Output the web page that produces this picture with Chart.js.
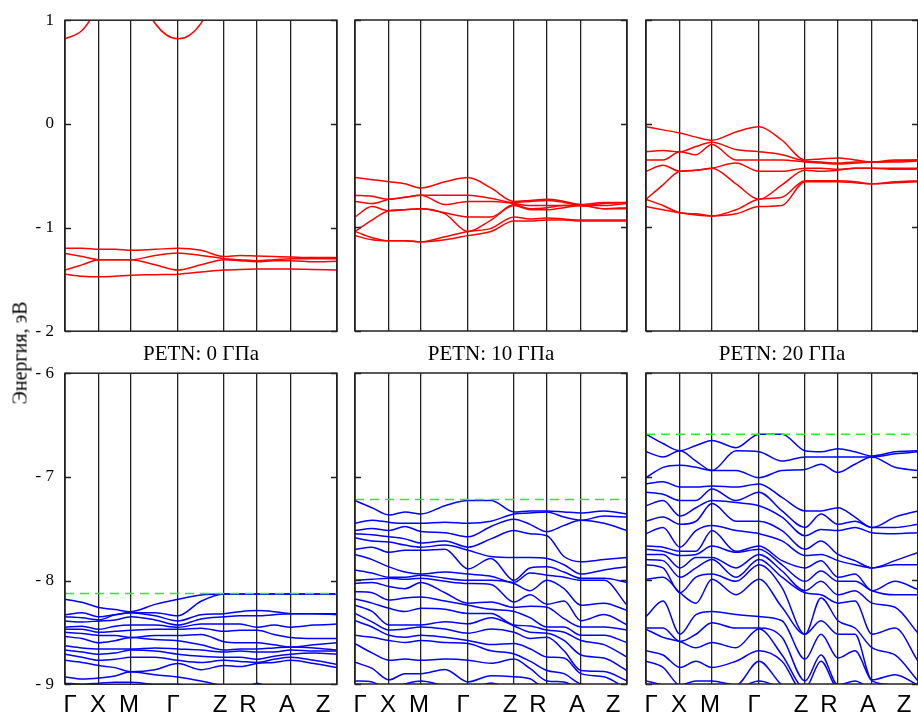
<!DOCTYPE html>
<html><head><meta charset="utf-8">
<script src="https://cdn.jsdelivr.net/npm/chart.js@4.4.1/dist/chart.umd.min.js"></script>
<style>
html,body{margin:0;padding:0;background:#fff;overflow:hidden;width:918px;height:716px;position:relative;}
canvas{position:absolute;}
.txt{position:absolute;font-family:"Liberation Serif","DejaVu Serif",serif;color:#000;white-space:nowrap;transform:translate(-50%,-50%);}
</style></head><body>
<script>
// ---- k-path (band-structure abscissa) ----
const kPath = [0,17,34,50,66,90,113,136,159,175,192,209,226,249,272];
const kTicks = [0,34,66,113,159,192,226,272];
const kLabels = ['Γ','X','M','Γ','Z','R','A','Z'];
const kLabelPos = [5,33,64,108,155,183,222,258];
const pressures = ['0','10','20'];
const vbmLevel = [-8.125,-7.22,-6.59];

// ---- conduction bands (eV), eigenvalues at each k of kPath ----
const cbUpper0 = [0.82,0.90,1.15,1.50,1.45,0.97,0.82,0.97,1.45,1.6,1.6,1.6,1.6,1.6,1.6];
const cb0ByK = [
 [-1.20,-1.25,-1.41,-1.45],
 [-1.20,-1.28,-1.36,-1.47],
 [-1.21,-1.31,-1.31,-1.475],
 [-1.21,-1.31,-1.31,-1.47],
 [-1.22,-1.31,-1.31,-1.46],
 [-1.21,-1.27,-1.36,-1.455],
 [-1.20,-1.245,-1.41,-1.45],
 [-1.22,-1.27,-1.36,-1.43],
 [-1.28,-1.30,-1.31,-1.41],
 [-1.27,-1.31,-1.32,-1.405],
 [-1.275,-1.32,-1.33,-1.40],
 [-1.28,-1.31,-1.32,-1.40],
 [-1.285,-1.30,-1.32,-1.40],
 [-1.29,-1.30,-1.33,-1.405],
 [-1.29,-1.30,-1.325,-1.41]
];
const cb10ByK = [
 [-0.52,-0.69,-0.75,-0.90,-1.04,-1.04,-1.08],
 [-0.54,-0.70,-0.77,-0.80,-0.93,-1.10,-1.12],
 [-0.56,-0.73,-0.73,-0.84,-0.84,-1.13,-1.13],
 [-0.58,-0.71,-0.71,-0.83,-0.83,-1.13,-1.13],
 [-0.62,-0.69,-0.69,-0.82,-0.82,-1.14,-1.14],
 [-0.56,-0.69,-0.78,-0.86,-0.87,-1.09,-1.12],
 [-0.52,-0.69,-0.75,-0.90,-1.04,-1.04,-1.08],
 [-0.62,-0.72,-0.75,-0.90,-0.93,-1.01,-1.04],
 [-0.75,-0.76,-0.77,-0.78,-0.79,-0.90,-0.94],
 [-0.74,-0.75,-0.79,-0.82,-0.83,-0.92,-0.94],
 [-0.73,-0.74,-0.79,-0.81,-0.83,-0.91,-0.93],
 [-0.75,-0.76,-0.79,-0.79,-0.81,-0.92,-0.93],
 [-0.78,-0.79,-0.79,-0.79,-0.79,-0.93,-0.94],
 [-0.76,-0.77,-0.79,-0.82,-0.82,-0.93,-0.94],
 [-0.76,-0.76,-0.77,-0.81,-0.82,-0.93,-0.94]
];
const cb20ByK = [
 [-0.03,-0.27,-0.35,-0.46,-0.73,-0.73,-0.80],
 [-0.06,-0.26,-0.35,-0.40,-0.59,-0.79,-0.83],
 [-0.09,-0.27,-0.27,-0.46,-0.46,-0.86,-0.86],
 [-0.13,-0.22,-0.30,-0.45,-0.45,-0.87,-0.88],
 [-0.16,-0.18,-0.20,-0.43,-0.43,-0.89,-0.89],
 [-0.08,-0.25,-0.35,-0.38,-0.58,-0.83,-0.87],
 [-0.03,-0.27,-0.35,-0.46,-0.73,-0.73,-0.80],
 [-0.16,-0.30,-0.35,-0.46,-0.59,-0.71,-0.79],
 [-0.35,-0.36,-0.37,-0.43,-0.45,-0.55,-0.56],
 [-0.34,-0.37,-0.38,-0.43,-0.46,-0.55,-0.56],
 [-0.33,-0.38,-0.39,-0.44,-0.45,-0.55,-0.56],
 [-0.35,-0.37,-0.38,-0.43,-0.43,-0.56,-0.57],
 [-0.37,-0.37,-0.37,-0.43,-0.43,-0.58,-0.58],
 [-0.35,-0.36,-0.37,-0.43,-0.44,-0.56,-0.57],
 [-0.35,-0.35,-0.36,-0.43,-0.44,-0.55,-0.56]
];

// ---- valence bands (eV), one array per band along kPath ----
const vb0Bands = [
 [-8.18,-8.21,-8.26,-8.28,-8.30,-8.23,-8.18,-8.14,-8.13,-8.13,-8.13,-8.13,-8.13,-8.13,-8.13],
 [-8.33,-8.31,-8.35,-8.33,-8.31,-8.31,-8.34,-8.20,-8.13,-8.13,-8.13,-8.13,-8.13,-8.13,-8.13],
 [-8.35,-8.36,-8.38,-8.33,-8.31,-8.34,-8.39,-8.33,-8.32,-8.30,-8.29,-8.30,-8.32,-8.32,-8.32],
 [-8.39,-8.40,-8.39,-8.38,-8.35,-8.38,-8.43,-8.37,-8.35,-8.34,-8.34,-8.33,-8.32,-8.32,-8.33],
 [-8.45,-8.44,-8.47,-8.44,-8.43,-8.43,-8.45,-8.42,-8.42,-8.42,-8.45,-8.43,-8.45,-8.43,-8.42],
 [-8.47,-8.47,-8.50,-8.49,-8.48,-8.47,-8.47,-8.46,-8.49,-8.48,-8.48,-8.52,-8.55,-8.56,-8.56],
 [-8.50,-8.51,-8.53,-8.53,-8.55,-8.53,-8.53,-8.52,-8.59,-8.60,-8.60,-8.62,-8.64,-8.62,-8.60],
 [-8.54,-8.56,-8.60,-8.58,-8.55,-8.57,-8.58,-8.62,-8.67,-8.66,-8.66,-8.65,-8.64,-8.65,-8.67],
 [-8.63,-8.65,-8.66,-8.66,-8.66,-8.65,-8.66,-8.67,-8.69,-8.68,-8.69,-8.69,-8.67,-8.68,-8.68],
 [-8.67,-8.69,-8.71,-8.70,-8.67,-8.68,-8.71,-8.73,-8.74,-8.74,-8.76,-8.73,-8.71,-8.70,-8.71],
 [-8.71,-8.74,-8.77,-8.76,-8.74,-8.74,-8.77,-8.79,-8.77,-8.78,-8.79,-8.76,-8.74,-8.77,-8.81],
 [-8.77,-8.79,-8.82,-8.84,-8.88,-8.86,-8.80,-8.86,-8.82,-8.83,-8.80,-8.79,-8.77,-8.80,-8.84],
 [-8.93,-8.95,-8.94,-8.92,-8.88,-8.91,-8.93,-8.97,-9.02,-9.05,-8.99,-9.05,-9.10,-9.10,-9.10],
 [-8.99,-9.00,-8.99,-8.98,-8.98,-9.00,-9.00,-9.05,-9.10,-9.10,-9.10,-9.10,-9.10,-9.10,-9.10]
];
const vb10Bands = [
 [-7.23,-7.30,-7.37,-7.34,-7.36,-7.28,-7.23,-7.23,-7.34,-7.33,-7.33,-7.34,-7.35,-7.33,-7.36],
 [-7.45,-7.42,-7.44,-7.45,-7.45,-7.44,-7.45,-7.43,-7.36,-7.35,-7.34,-7.39,-7.42,-7.38,-7.39],
 [-7.52,-7.50,-7.52,-7.48,-7.53,-7.54,-7.58,-7.48,-7.41,-7.46,-7.53,-7.47,-7.42,-7.45,-7.52],
 [-7.55,-7.56,-7.58,-7.60,-7.64,-7.62,-7.68,-7.60,-7.52,-7.55,-7.57,-7.77,-7.82,-7.80,-7.78],
 [-7.59,-7.62,-7.63,-7.66,-7.68,-7.66,-7.71,-7.77,-7.78,-7.78,-7.79,-7.85,-7.94,-7.90,-7.87],
 [-7.70,-7.68,-7.73,-7.71,-7.71,-7.70,-7.89,-7.79,-8.00,-7.88,-7.87,-7.92,-7.98,-7.98,-8.02],
 [-7.75,-7.80,-7.87,-7.92,-7.94,-7.92,-7.94,-7.96,-8.02,-7.93,-7.95,-7.97,-8.00,-8.00,-8.24],
 [-7.90,-7.93,-7.97,-7.97,-7.95,-7.98,-8.00,-8.00,-8.03,-8.10,-8.00,-8.08,-8.24,-8.22,-8.29],
 [-8.00,-7.99,-7.98,-7.99,-7.98,-8.01,-8.03,-8.04,-8.21,-8.14,-8.23,-8.20,-8.39,-8.33,-8.43],
 [-8.03,-8.02,-8.06,-8.08,-8.02,-8.12,-8.22,-8.21,-8.26,-8.25,-8.26,-8.37,-8.45,-8.45,-8.48],
 [-8.11,-8.12,-8.19,-8.17,-8.16,-8.20,-8.24,-8.28,-8.30,-8.36,-8.45,-8.45,-8.53,-8.53,-8.60],
 [-8.18,-8.22,-8.27,-8.30,-8.27,-8.28,-8.32,-8.32,-8.43,-8.44,-8.48,-8.50,-8.58,-8.62,-8.74],
 [-8.24,-8.30,-8.43,-8.43,-8.43,-8.40,-8.42,-8.36,-8.44,-8.50,-8.51,-8.58,-8.72,-8.75,-8.87],
 [-8.32,-8.40,-8.48,-8.47,-8.45,-8.47,-8.51,-8.47,-8.50,-8.56,-8.55,-8.68,-8.87,-8.88,-8.97],
 [-8.39,-8.45,-8.53,-8.55,-8.53,-8.55,-8.58,-8.62,-8.61,-8.66,-8.74,-8.75,-8.90,-8.93,-9.05],
 [-8.53,-8.55,-8.58,-8.60,-8.58,-8.60,-8.61,-8.68,-8.71,-8.78,-8.87,-8.90,-9.00,-9.02,-9.08],
 [-8.61,-8.70,-8.77,-8.76,-8.77,-8.76,-8.77,-8.80,-8.76,-8.85,-8.97,-8.98,-9.05,-9.05,-9.10],
 [-8.79,-8.85,-8.96,-8.90,-8.90,-8.86,-8.98,-8.92,-8.93,-8.95,-9.05,-9.05,-9.10,-9.10,-9.10],
 [-8.97,-8.98,-9.05,-9.00,-8.97,-9.02,-9.05,-8.99,-9.05,-9.05,-9.10,-9.10,-9.10,-9.10,-9.10]
];
// eigenvalues at each k of kPath
const vb20ByK = [
 [-6.59,-6.76,-7.01,-7.07,-7.15,-7.28,-7.43,-7.55,-7.67,-7.70,-7.75,-7.80,-7.85,-7.99,-8.35,-8.46,-8.47,-8.68,-8.78,-8.97],
 [-6.68,-6.81,-6.91,-7.05,-7.17,-7.23,-7.39,-7.49,-7.68,-7.72,-7.75,-7.81,-7.88,-7.97,-8.20,-8.46,-8.55,-8.72,-8.84,-9.01],
 [-6.75,-6.75,-6.89,-7.10,-7.23,-7.38,-7.46,-7.68,-7.72,-7.76,-7.88,-7.97,-8.12,-8.12,-8.52,-8.59,-8.59,-8.84,-9.01,-9.04],
 [-6.70,-6.85,-6.91,-7.10,-7.23,-7.30,-7.43,-7.52,-7.72,-7.75,-7.78,-7.88,-7.97,-8.22,-8.33,-8.52,-8.65,-8.78,-8.97,-9.04],
 [-6.65,-6.94,-6.94,-7.09,-7.12,-7.23,-7.26,-7.47,-7.52,-7.67,-7.78,-7.80,-7.94,-7.99,-8.30,-8.41,-8.60,-8.84,-8.97,-9.04],
 [-6.72,-6.75,-6.94,-7.10,-7.23,-7.25,-7.43,-7.52,-7.72,-7.73,-7.88,-7.97,-8.01,-8.14,-8.33,-8.46,-8.65,-8.78,-9.01,-9.04],
 [-6.59,-6.76,-7.01,-7.07,-7.15,-7.28,-7.43,-7.55,-7.67,-7.70,-7.75,-7.80,-7.85,-7.99,-8.35,-8.46,-8.47,-8.68,-8.78,-8.97],
 [-6.59,-6.85,-6.94,-7.20,-7.33,-7.39,-7.52,-7.62,-7.81,-7.85,-7.91,-7.97,-8.07,-8.26,-8.39,-8.55,-8.72,-8.78,-9.01,-9.04],
 [-6.75,-6.81,-6.93,-7.33,-7.49,-7.57,-7.70,-7.76,-7.88,-8.01,-8.10,-8.12,-8.52,-8.52,-8.76,-8.97,-9.04,-9.10,-9.10,-9.10],
 [-6.76,-6.81,-6.88,-7.33,-7.36,-7.51,-7.62,-7.75,-7.81,-7.91,-8.01,-8.14,-8.17,-8.39,-8.52,-8.72,-8.78,-9.04,-9.10,-9.10],
 [-6.73,-6.81,-6.96,-7.30,-7.46,-7.52,-7.75,-7.81,-7.97,-8.01,-8.14,-8.22,-8.39,-8.52,-8.75,-9.01,-9.04,-9.10,-9.10,-9.10],
 [-6.76,-6.81,-6.88,-7.39,-7.43,-7.49,-7.81,-7.85,-7.94,-8.01,-8.10,-8.20,-8.46,-8.52,-8.68,-8.97,-9.04,-9.10,-9.10,-9.10],
 [-6.80,-6.81,-6.81,-7.49,-7.49,-7.54,-7.88,-7.88,-8.10,-8.10,-8.22,-8.52,-8.65,-8.96,-8.97,-9.04,-9.10,-9.10,-9.10,-9.10],
 [-6.76,-6.78,-6.91,-7.39,-7.49,-7.55,-7.81,-7.85,-8.01,-8.14,-8.26,-8.46,-8.72,-8.91,-9.01,-9.04,-9.10,-9.10,-9.10,-9.10],
 [-6.75,-6.76,-6.94,-7.33,-7.46,-7.54,-7.73,-7.85,-8.09,-8.14,-8.51,-8.78,-8.97,-9.01,-9.04,-9.10,-9.10,-9.10,-9.10,-9.10]
];

const transpose = rows => rows[0].map((_, j) => rows.map(r => r[j]));

// ---- layout ----
const colLeft = [65, 355, 646];
const rowTop = [20, 373];
const PW = 272, PH = 311;
const PADL = 10, YW = 50, PADR = 6, PADT = 2, PADB = 2, XH = 36;

const panels = [
 {col:0,row:0,bands:[cbUpper0].concat(transpose(cb0ByK)),color:'#ff0000',min:-2,max:1},
 {col:1,row:0,bands:transpose(cb10ByK),color:'#ff0000',min:-2,max:1},
 {col:2,row:0,bands:transpose(cb20ByK),color:'#ff0000',min:-2,max:1},
 {col:0,row:1,bands:vb0Bands,color:'#0000ff',min:-9,max:-6,vbm:vbmLevel[0]},
 {col:1,row:1,bands:vb10Bands,color:'#0000ff',min:-9,max:-6,vbm:vbmLevel[1]},
 {col:2,row:1,bands:transpose(vb20ByK),color:'#0000ff',min:-9,max:-6,vbm:vbmLevel[2]}
];

const framePlugin = {
 id:'frame',
 afterDraw(chart){
  const {ctx, chartArea:a, scales:{y}} = chart;
  ctx.save();
  ctx.strokeStyle = '#222';
  ctx.lineWidth = 1.5;
  ctx.strokeRect(a.left, a.top, a.right - a.left, a.bottom - a.top);
  y.ticks.forEach(t => {
    const py = Math.round(y.getPixelForValue(t.value)) + 0.5;
    ctx.beginPath();
    ctx.moveTo(a.left, py); ctx.lineTo(a.left + 6, py);
    ctx.moveTo(a.right, py); ctx.lineTo(a.right - 6, py);
    ctx.stroke();
  });
  ctx.restore();
 }
};

const fmt = v => v < 0 ? '- ' + Math.abs(v) : String(v);

panels.forEach(p => {
  const isLeft = p.col === 0, isBottom = p.row === 1;
  const cv = document.createElement('canvas');
  let w = PADL + YW + PW + PADR + 30;
  let h = PADT + PH + (isBottom ? XH : 0) + PADB + 24;
  cv.width = w; cv.height = h;
  document.body.appendChild(cv);

  const datasets = [];
  if (p.vbm !== undefined) {
    datasets.push({data:[{x:0,y:p.vbm},{x:272,y:p.vbm}], borderColor:'#2fe82f', borderWidth:1.5,
      borderDash:[9,6], pointRadius:0, tension:0, order:-1});
  }
  p.bands.forEach(b => {
    datasets.push({data:kPath.map((k,i)=>({x:k,y:b[i]})), borderColor:p.color, borderWidth:1.5,
      pointRadius:0, cubicInterpolationMode:'monotone', fill:false});
  });

  const chart = new Chart(cv, {
    type:'line',
    data:{datasets},
    options:{
      responsive:false, maintainAspectRatio:false, animation:false, devicePixelRatio:1,
      layout:{padding:{left:PADL,right:PADR,top:PADT,bottom:PADB}},
      plugins:{legend:{display:false}, tooltip:{enabled:false}, title:{display:false}},
      scales:{
        x:{type:'linear', min:0, max:272, position:'bottom',
           afterBuildTicks:s=>{ s.ticks = kTicks.map(v=>({value:v})); },
           afterFit:s=>{ s.height = 0; },
           ticks:{display:false},
           grid:{color:'#222', lineWidth:1.3, drawTicks:false},
           border:{display:false}},
        xl:{type:'linear', min:0, max:272, position:'bottom', display:isBottom,
           afterBuildTicks:s=>{ s.ticks = kLabelPos.map(v=>({value:v})); },
           afterFit:s=>{ s.height = isBottom ? XH : 0; },
           ticks:{autoSkip:false, maxRotation:0, padding:7, color:'#000',
                  font:{family:'"Liberation Sans", Arial, sans-serif', size:24},
                  callback:(v,i)=>kLabels[i]},
           grid:{display:false, drawTicks:false},
           border:{display:false}},
        y:{type:'linear', min:p.min, max:p.max, position:'left',
           afterFit:s=>{ s.width = YW; },
           ticks:{display:isLeft, stepSize:1, padding:11, color:'#000',
                  font:{family:'"Liberation Serif", "Times New Roman", serif', size:17},
                  callback:v=>fmt(v)},
           grid:{display:false, drawTicks:false},
           border:{display:false}}
      }
    },
    plugins:[framePlugin]
  });
  // fit the plotting area to the panel size, then place the canvas on the page grid
  for (let it = 0; it < 3; it++) {
    const ca = chart.chartArea;
    const dw = PW - (ca.right - ca.left);
    const dh = PH - (ca.bottom - ca.top);
    if (!dw && !dh) break;
    w += dw; h += dh;
    chart.resize(w, h);
  }
  const ca = chart.chartArea;
  cv.style.left = (colLeft[p.col] - ca.left) + 'px';
  cv.style.top = (rowTop[p.row] - ca.top) + 'px';
});

// titles and axis title (real text)
pressures.forEach((pr, i) => {
  const d = document.createElement('div');
  d.className = 'txt';
  d.style.fontSize = '21px';
  d.style.left = (colLeft[i] + PW/2) + 'px';
  d.style.top = '353px';
  d.textContent = 'PETN: ' + pr + ' ГПа';
  document.body.appendChild(d);
});
const yl = document.createElement('div');
yl.className = 'txt';
yl.style.fontSize = '20px';
yl.style.left = '20px';
yl.style.top = '353px';
yl.style.transform = 'translate(-50%,-50%) rotate(-90deg)';
yl.textContent = 'Энергия, эВ';
document.body.appendChild(yl);
</script>
</body></html>
